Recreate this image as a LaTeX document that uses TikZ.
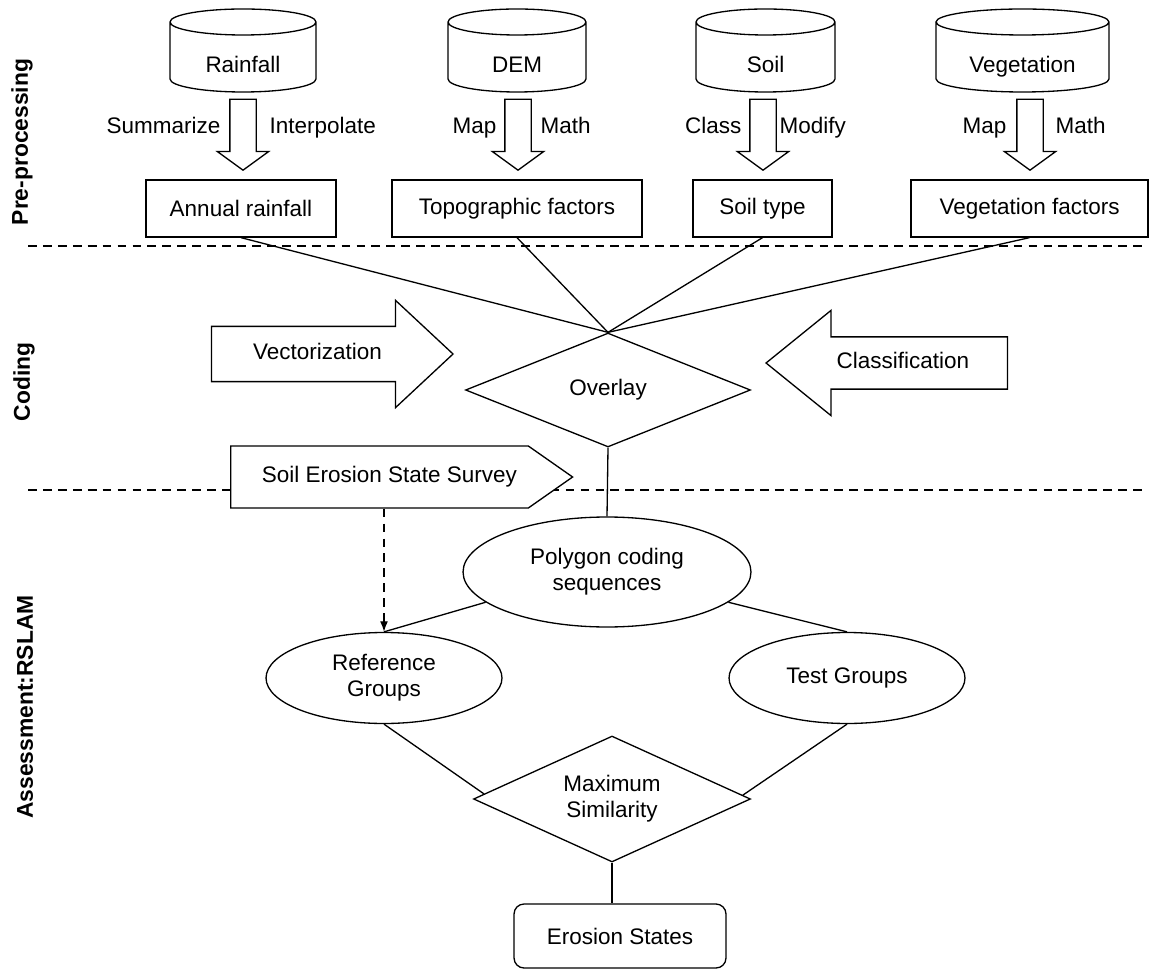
\documentclass[tikz,border=0pt]{standalone}
\usepackage{fontspec}
\setmainfont{Liberation Sans}
\usetikzlibrary{calc, arrows.meta, shapes.geometric, shapes.arrows, shapes.symbols, positioning}

\begin{document}
\begin{tikzpicture}[x=0.02cm, y=-0.02cm, >={Latex[length=6pt, width=4.5pt]}, line width=0.75pt,
    font=\fontsize{12.8}{15}\selectfont,
    box/.style={draw, fill=white, minimum height=1.14cm, inner sep=0},
    darrow/.style={draw, single arrow, shape border rotate=270, minimum height=1.42cm, inner xsep=0.25cm,
        inner ysep=0, single arrow head extend=0.25cm, single arrow tip angle=108, anchor=tip},
    blockarrow/.style={draw, fill=white, single arrow, minimum height=4.83cm, inner xsep=0,
        text height=0.33cm, text depth=0.09cm, anchor=tip},
    tag/.style={inner sep=0},
    decision/.style={draw, diamond, fill=white, inner sep=1pt, align=center},
    oval/.style={draw, ellipse, fill=white, inner sep=1pt, align=center},
    stage/.style={rotate=90, font=\fontsize{13}{15}\selectfont\bfseries},
    sep/.style={dash pattern=on 5pt off 3.5pt}]
    \useasboundingbox (0,0) rectangle (1151,972);
    % Các đường phân vùng
    \draw[sep] (28,246) -- (1146,246);
    \draw[sep] (28,490) -- (1148,490);
    \node[stage] (pre) at (22,142) {Pre-processing};
    \node[stage] (coding) at (24,382) {Coding};
    \node[stage] (assess) at (25,707) {Assessment:RSLAM};

    % Dữ liệu đầu vào
    \foreach \cx/\rx/\nm/\txt in {243/1.46/rain/Rainfall, 517/1.38/dem/DEM, 765.5/1.39/soil/Soil,
        1022.5/1.73/veg/Vegetation} {
        \draw ([xshift=-\rx cm]\cx,22) -- ([xshift=-\rx cm]\cx,79)
            arc[start angle=180, end angle=360, x radius=\rx cm, y radius=0.26cm]
            -- ([xshift=\rx cm]\cx,22)
            arc[start angle=0, end angle=360, x radius=\rx cm, y radius=0.26cm];
        \node[tag, anchor=base] (\nm) at (\cx,73) {\txt};
    }

    % Mũi tên xử lý
    \node[darrow] (arain) at (243,171) {};
    \node[darrow] (adem) at (518,171) {};
    \node[darrow] (asoil) at (763,171) {};
    \node[darrow] (aveg) at (1030,171) {};
    \node[tag, anchor=base east] (summ) at (221,134) {Summarize};
    \node[tag, anchor=base west] (interp) at (269,134) {Interpolate};
    \node[tag, anchor=base east] (mapa) at (497,134) {Map};
    \node[tag, anchor=base west] (matha) at (540,134) {Math};
    \node[tag, anchor=base east] (class) at (742,134) {Class};
    \node[tag, anchor=base west] (modif) at (779,134) {Modify};
    \node[tag, anchor=base east] (mapb) at (1007,134) {Map};
    \node[tag, anchor=base west] (mathb) at (1055,134) {Math};

    % Các lớp nhân tố
    \node[box, minimum width=3.8cm] (annual) at (241,208.5) {Annual rainfall};
    \node[box, minimum width=5cm] (topo) at (517,208.5) {Topographic factors};
    \node[box, minimum width=2.78cm] (soiltype) at (762.5,208.5) {Soil type};
    \node[box, minimum width=4.74cm] (vegfac) at (1029.5,208.5) {Vegetation factors};

    % Chồng xếp
    \node[decision, minimum width=5.7cm, minimum height=2.28cm, aspect=2.5] (overlay) at (608,390) {Overlay};
    \foreach \b in {annual, topo, soiltype, vegfac}
        \draw (\b.south) -- (overlay.north);
    \node[blockarrow, inner ysep=0.33cm, single arrow head extend=0.52cm, single arrow tip angle=86]
        (vect) at (454,354) {Vectorization};
    \node[blockarrow, inner ysep=0.30cm, single arrow head extend=0.53cm, shape border rotate=180,
        single arrow tip angle=78] (classif) at (765,363) {Classification};
    \node[draw, fill=white, signal, signal to=east, signal pointer angle=70, minimum width=6.84cm,
        minimum height=1.24cm, anchor=west] (survey) at (230,477) {\hspace*{0.4cm}Soil Erosion State Survey};

    % Đánh giá
    \node[oval, minimum width=5.76cm, minimum height=2.2cm] (poly) at (607,572) {Polygon coding\\sequences};
    \node[oval, minimum width=4.72cm, minimum height=1.82cm] (ref) at (384,678) {Reference\\Groups};
    \node[oval, minimum width=4.72cm, minimum height=1.82cm] (test) at (847,678) {Test Groups};
    \node[decision, minimum width=5.54cm, minimum height=2.52cm, aspect=2.2] (maxsim) at (612,799)
        {Maximum\\Similarity};
    \node[draw, rounded corners=0.2cm, minimum width=4.24cm, minimum height=1.28cm] (erosion)
        at (620,936) {Erosion States};
    \draw (overlay.south) -- (poly.north);
    \draw (poly.194) -- (ref.north);
    \draw (poly.-14) -- (test.north);
    \draw (ref.south) -- ($(maxsim.west)!0.08!(maxsim.north)$);
    \draw (test.south) -- ($(maxsim.east)!0.06!(maxsim.north)$);
    \draw (maxsim.south) -- (maxsim.south |- erosion.north);
    \draw[dashed, sep, ->] (ref.north |- survey.south) -- (ref.north);
\end{tikzpicture}
\end{document}
